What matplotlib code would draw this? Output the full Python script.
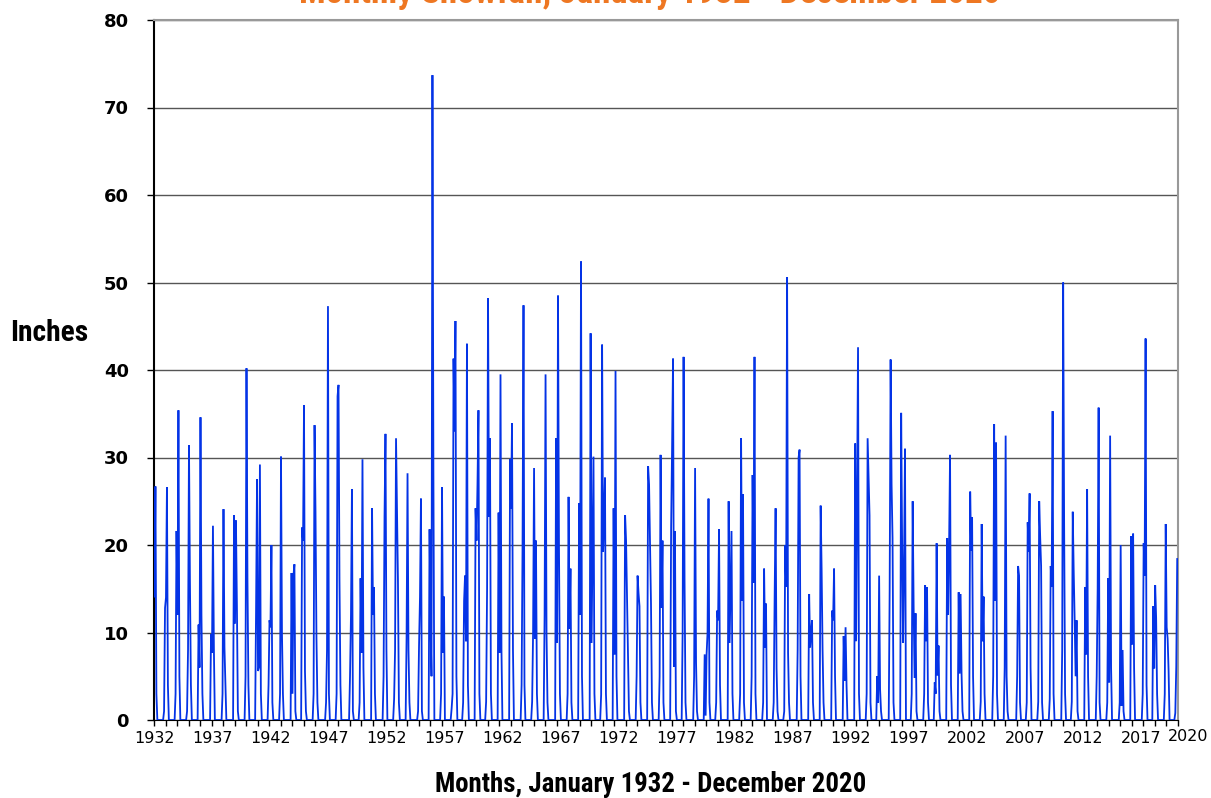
import numpy as np
import matplotlib
matplotlib.use("Agg")
import matplotlib.pyplot as plt
from matplotlib import font_manager

# ---------------- data (inches of snow, calendar years 1932..2020) ----------------
years = list(range(1932, 2021))

jan = [14.1, 14, 12, 31.4, 34.6, 7.7, 24.1, 11, 40.2, 5.6,
       11.4, 30.1, 3, 36, 23.7, 8, 38.3, 5, 7.7, 12,
       23.2, 32.2, 28.2, 8.5, 11.2, 26.6, 41.3, 16.5, 20.5, 48.2,
       7.7, 24.2, 20, 28.8, 39.5, 8.8, 25.5, 12, 8.8, 19.2,
       7.5, 20.5, 16.5, 26.9, 30.3, 31, 41.5, 28.8, 7.5, 11.4,
       8.8, 32.2, 28, 17.3, 24.2, 50.6, 30, 8.3, 17.3, 11.4,
       4.5, 9, 32.2, 16.5, 41.2, 20, 13, 15.4, 20.2, 12,
       5.3, 19.4, 9, 33.8, 32.5, 5, 19.2, 21, 15.2, 50,
       11.4, 7.5, 15, 4.3, 20, 8.6, 20.2, 15.4, 10.6]

feb = [26.7, 26.6, 35.4, 15.7, 12, 22.2, 8.3, 22.8, 16.2, 6,
       10.6, 9.9, 16.5, 5.6, 9.3, 47.3, 16, 12, 29.8, 15.2,
       32.7, 24, 8, 14, 5, 7.7, 33, 9, 27, 23.2,
       39.5, 33.9, 47.4, 9.3, 10, 48.5, 10.4, 52.4, 19, 23,
       39.9, 14, 14.5, 20, 12.8, 41.3, 16, 6.6, 10, 21.8,
       15, 13.6, 15.7, 8.3, 5.9, 7.7, 30.9, 10, 8, 17.3,
       10.6, 25, 28, 3.5, 26.9, 8.8, 4.8, 9, 5.1, 20,
       14.4, 23.2, 14.1, 13.6, 5, 17.6, 25.9, 17.6, 35.3, 22.6,
       5, 26.4, 35.7, 32.5, 1.6, 21.3, 16.5, 11.7, 9.3]

mar = [3, 4, 5, 4, 3, 8, 4, 13, 4, 29.2,
       20, 3, 17.8, 1, 2, 3, 4, 26.4, 6, 3,
       8, 16, 2, 25.3, 73.7, 14.1, 45.6, 43, 35.4, 32.2,
       8, 8, 4, 20.5, 2, 20, 17.3, 5, 30.1, 27.7,
       5, 7.5, 13, 13.3, 20.5, 6.1, 2, 1, 25.3, 4,
       21.6, 25.8, 41.5, 13.3, 1, 2, 5, 11.4, 2, 5,
       4, 42.6, 23.4, 1, 20.8, 18, 12.2, 15.2, 8.5, 30.3,
       5.3, 5, 3, 31.7, 1, 16.5, 6, 2, 3, 3,
       11.4, 5, 2, 6, 8, 6, 43.6, 3, 5.6]

apr = [0, 0, 0, 0, 0, 0, 0, 1, 0, 3,
       2, 0, 1, 0, 0, 0, 0, 1, 0, 0,
       0, 2, 0, 1, 28, 0, 5, 4, 3, 3,
       0, 0, 0, 3, 0, 3, 2, 0, 3, 3,
       0, 1, 2, 2, 2, 21.6, 0, 0, 2, 0,
       3, 2, 3, 0, 0, 0, 0, 2, 0, 0,
       0, 3, 2, 0, 2, 31, 1, 2, 1, 4,
       1, 0, 0, 3, 0, 2, 0, 0, 0, 0,
       1, 0, 0, 0, 1, 0, 4, 0, 0]

may = [0] * 89
may[1977 - 1932] = 1

octo = [0] * 89
octo[1986 - 1932] = 1
octo[2011 - 1932] = 2.1
octo[2020 - 1932] = 0.8

nov = [1, 3, 1, 10.9, 0, 0, 0, 0, 12.8, 0,
       0, 0, 22, 3, 0, 3, 0, 2, 0, 0,
       2.4, 0, 0, 0, 0, 1.3, 2, 0, 2.1, 0,
       0, 0, 2.1, 0, 0, 0, 0, 0, 2.9, 0,
       0, 0, 0, 0, 0, 0, 0, 7.5, 2, 0,
       0, 0, 0, 2, 20, 0, 0, 0, 0, 0,
       0, 0, 5, 0, 0, 3, 0, 4.3, 0, 0,
       0, 2.1, 0, 0, 0, 2, 2.1, 2.4, 0, 23.8,
       0, 0, 2, 0, 0, 0, 13, 3, 6.1]

dec = [12.8, 21.6, 8, 6, 9.8, 3, 23.4, 5, 27.5, 4,
       3, 16.8, 20.5, 33.7, 2, 37, 0, 16.2, 24.2, 5,
       8, 9.3, 1, 21.8, 3, 3, 13.6, 24.2, 15, 23.7,
       29.8, 4, 10, 12, 32.2, 3, 24.8, 44.2, 42.9, 24.2,
       23.4, 5, 29, 5, 22.1, 10, 5, 0.5, 12.5, 25,
       3, 5, 2, 14.1, 15.2, 8, 14.4, 24.5, 12.5, 9.6,
       31.6, 3, 2, 14.9, 35.1, 25, 3, 3, 20.8, 14.6,
       26.1, 22.4, 5, 6, 0, 22.6, 25, 17.6, 8, 17,
       15.2, 5, 16.2, 2, 21, 3, 5.9, 22.4, 18.4]

label_years = list(range(1932, 2018, 5))

# ---------------- build monthly series ----------------
monthly = np.zeros((len(years), 12))
monthly[:, 0] = jan
monthly[:, 1] = feb
monthly[:, 2] = mar
monthly[:, 3] = apr
monthly[:, 4] = may
monthly[:, 9] = octo
monthly[:, 10] = nov
monthly[:, 11] = dec
snow = monthly.ravel()
months = np.arange(len(snow)) + 0.5
n = len(snow)

# ---------------- fonts ----------------
available = {f.name for f in font_manager.fontManager.ttflist}
impact_like = "Liberation Sans"
for cand in ["Roboto Condensed", "Liberation Sans Narrow", "Open Sans Condensed",
             "Arial Narrow", "Noto Sans Condensed"]:
    if cand in available:
        impact_like = cand
        break

W, H = 1211, 798
AX_L, AX_R, AX_T, AX_B = 154.0, 1177.7, 20.0, 720.0
fig = plt.figure(figsize=(W / 100, H / 100), dpi=100)
fig.patch.set_facecolor("white")
ax = fig.add_axes([AX_L / W, 1 - AX_B / H, (AX_R - AX_L) / W, (AX_B - AX_T) / H])

ax.plot(months, snow, color="#0433E6", lw=1.3, solid_joinstyle="miter", zorder=3)

ax.set_xlim(0, n)
ax.set_ylim(0, 80)

ax.set_yticks(np.arange(0, 81, 10))
ax.set_yticklabels([str(v) for v in range(0, 81, 10)], fontsize=13, fontweight="bold",
                   family="DejaVu Sans")
ax.tick_params(axis="y", direction="out", length=5, width=1, pad=13, color="black")

# year labels (the reference places them at ~11.6 px per year from the axis start)
px_per_month = (AX_R - AX_L) / n
label_pos = [((155 + (y - 1932) * 11.6) - AX_L) / px_per_month for y in label_years]
ax.set_xticks(label_pos)
ax.set_xticklabels([str(y) for y in label_years], fontsize=11.5, family="DejaVu Sans")
ax.tick_params(axis="x", which="major", length=0, pad=8)
ax.set_xticks(np.arange(0, n + 1, 12), minor=True)
ax.tick_params(axis="x", which="minor", direction="out", length=4, width=1, color="black")

fig.text(1208 / W, 1 - 729 / H, "2020", ha="right", va="top",
         fontsize=11.5, family="DejaVu Sans")

ax.yaxis.grid(True, color="#555555", lw=1.0)
ax.set_axisbelow(True)
ax.spines["left"].set_color("black")
ax.spines["left"].set_linewidth(1.5)
ax.spines["bottom"].set_color("black")
ax.spines["top"].set_color("#999999")
ax.spines["top"].set_linewidth(1.5)
ax.spines["right"].set_color("#999999")
ax.spines["right"].set_linewidth(1.5)

# text labels
t_inches = fig.text(49 / W, 1 - 333 / H, "Inches", ha="center", va="center",
                    fontsize=21, fontweight="bold", family=impact_like, color="black")
t_xlab = fig.text(651 / W, 1 - 785 / H, "Months, January 1932 - December 2020", ha="center",
                  va="center", fontsize=21, fontweight="bold", family=impact_like, color="black")
t_title = fig.text(650 / W, 1 - 3 / H, "Monthly Snowfall, January 1932 - December 2020",
                   ha="center", va="baseline", fontsize=26, fontweight="bold",
                   family=impact_like, color="#EE7722")

# fit text widths to reference
fig.canvas.draw()
r = fig.canvas.get_renderer()
for t, target in [(t_inches, 78), (t_xlab, 431), (t_title, 703)]:
    w = t.get_window_extent(r).width
    t.set_fontsize(t.get_fontsize() * target / w)

fig.savefig("out.png", dpi=100, facecolor="white")
